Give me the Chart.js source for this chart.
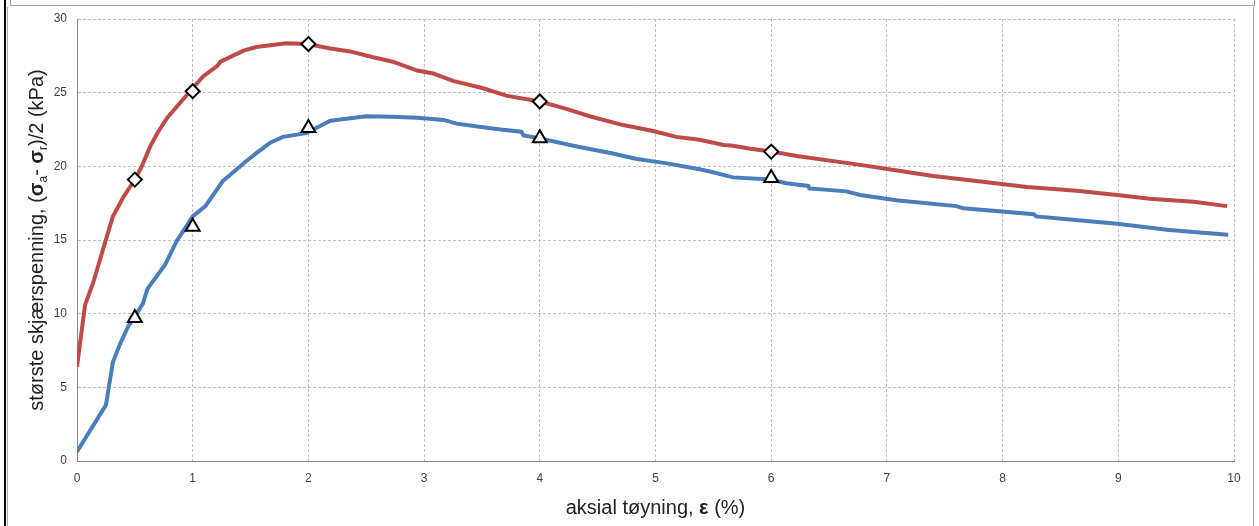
<!DOCTYPE html>
<html>
<head>
<meta charset="utf-8">
<script src="https://cdn.jsdelivr.net/npm/chart.js@4"></script>
<style>
  html, body { margin: 0; padding: 0; background: #fff; }
  #wrap { width: 1259px; height: 526px; }
</style>
</head>
<body>
<div id="wrap"><canvas id="myChart" width="1259" height="526"></canvas></div>
<script>
// Curve: red (upper)
const redX = [0, 0.07, 0.14, 0.23, 0.31, 0.40, 0.50, 0.56, 0.63, 0.69, 0.78, 0.89, 1.0, 1.09, 1.21, 1.24, 1.44, 1.55, 1.81, 1.99, 2.19,
              2.36, 2.56, 2.73, 2.94, 3.08, 3.25, 3.51, 3.71, 4.0, 4.23, 4.43, 4.72, 4.98, 5.18, 5.38, 5.59, 5.67, 5.82, 6.0, 6.22,
              6.77, 7.06, 7.40, 7.83, 8.21, 8.64, 8.99, 9.27, 9.65, 9.94];
const redY = [6.4, 10.6, 12.1, 14.5, 16.6, 17.9, 19.1, 20.0, 21.3, 22.2, 23.3, 24.3, 25.3, 26.1, 26.8, 27.1, 27.85, 28.1, 28.35, 28.3, 28.0,
              27.8, 27.4, 27.1, 26.5, 26.3, 25.8, 25.3, 24.8, 24.4, 23.9, 23.4, 22.8, 22.4, 22.0, 21.8, 21.45, 21.4, 21.2, 21.0, 20.7,
              20.1, 19.75, 19.35, 18.96, 18.6, 18.35, 18.06, 17.8, 17.6, 17.3];

// Curve: blue (lower)
const blueX = [0, 0.25, 0.31, 0.37, 0.44, 0.50, 0.57, 0.61, 0.76, 0.86, 1.0, 1.11, 1.26, 1.47, 1.55, 1.67, 1.78, 1.98, 2.19,
               2.50, 2.73, 2.94, 3.17, 3.28, 3.51, 3.66, 3.84, 3.86, 4.0, 4.32, 4.61, 4.84, 5.10, 5.38, 5.47, 5.67, 6.0, 6.13,
               6.32, 6.33, 6.65, 6.77, 7.08, 7.60, 7.66, 8.27, 8.29, 8.70, 8.99, 9.42, 9.65, 9.95];
const blueY = [0.63, 3.8, 6.7, 7.9, 9.1, 9.8, 10.7, 11.7, 13.3, 14.9, 16.6, 17.3, 19.0, 20.4, 20.9, 21.6, 22.0, 22.25, 23.1,
               23.4, 23.37, 23.3, 23.15, 22.9, 22.65, 22.5, 22.35, 22.1, 21.9, 21.35, 20.9, 20.5, 20.2, 19.8, 19.65, 19.25, 19.1, 18.85,
               18.67, 18.5, 18.3, 18.06, 17.7, 17.3, 17.15, 16.75, 16.6, 16.3, 16.1, 15.7, 15.55, 15.35];

// Measured points (markers)
const markerX = [0.5, 1, 2, 4, 6];
const diamondY = [19.1, 25.1, 28.3, 24.4, 21.0];
const triangleY = [9.7, 15.9, 22.6, 21.9, 19.2];

// Axis ticks
const xMin = 0, xMax = 10, xStep = 1;
const yMin = 0, yMax = 30, yStep = 5;

function toPoints(xs, ys) {
    let pts = [];
    for (let i = 0; i < xs.length; i++) {
        pts.push({x: xs[i], y: ys[i]});
    }
    return pts;
}

// Draws a line of text made of pieces (normal, bold, subscript), centered on x,y
function drawRich(ctx, pieces, x, y, size, family) {
    let fontOf = p => (p.bold ? 'bold ' : '') + (p.sub ? Math.round(size * 0.62) : size) + 'px ' + family;
    let total = 0;
    pieces.forEach(p => { ctx.font = fontOf(p); total += ctx.measureText(p.text).width; });
    let cx = x - total / 2;
    ctx.textBaseline = 'middle';
    ctx.textAlign = 'left';
    pieces.forEach(p => {
        ctx.font = fontOf(p);
        ctx.fillText(p.text, cx, p.sub ? y + size * 0.32 : y);
        cx += ctx.measureText(p.text).width;
    });
}

const framePlugin = {
    id: 'frame',
    beforeDraw(chart) {
        const ctx = chart.ctx;
        ctx.save();
        ctx.fillStyle = '#fff';
        ctx.fillRect(0, 0, chart.width, chart.height);
        ctx.fillStyle = '#000';
        ctx.fillRect(4, 0, 2, chart.height);
        ctx.strokeStyle = '#a6a6a6';
        ctx.lineWidth = 1;
        ctx.beginPath();
        ctx.moveTo(10.5, 0); ctx.lineTo(10.5, 5.5);
        ctx.moveTo(10, 5.5); ctx.lineTo(1254.5, 5.5);
        ctx.moveTo(1254.5, 0); ctx.lineTo(1254.5, 7);
        ctx.moveTo(7.5, 7); ctx.lineTo(7.5, chart.height);
        ctx.moveTo(1253.5, 7); ctx.lineTo(1253.5, chart.height);
        ctx.stroke();
        ctx.restore();
    },
    afterDraw(chart) {
        const ctx = chart.ctx;
        const a = chart.chartArea;
        const fam = '"Liberation Sans", Arial, sans-serif';
        ctx.save();
        ctx.fillStyle = '#222';
        drawRich(ctx, [
            {text: 'aksial tøyning, '},
            {text: 'ε', bold: true},
            {text: ' (%)'}
        ], (a.left + a.right) / 2, 508, 20, fam);

        ctx.translate(37, (a.top + a.bottom) / 2);
        ctx.rotate(-Math.PI / 2);
        drawRich(ctx, [
            {text: 'største skjærspenning, ('},
            {text: 'σ', bold: true},
            {text: 'a', sub: true},
            {text: '- '},
            {text: 'σ', bold: true},
            {text: 'r', sub: true},
            {text: ')/2 (kPa)'}
        ], 0, 0, 20, fam);
        ctx.restore();
    }
};

let grafica = new Chart(document.getElementById("myChart"), {
    type: 'scatter',
    data: {
        datasets: [
            {
                label: 'blue',
                data: toPoints(blueX, blueY),
                showLine: true,
                borderColor: '#4a7ebb',
                borderWidth: 4,
                pointRadius: 0,
                tension: 0,
                order: 3
            },
            {
                label: 'red',
                data: toPoints(redX, redY),
                showLine: true,
                borderColor: '#be4b48',
                borderWidth: 4,
                pointRadius: 0,
                tension: 0,
                order: 2
            },
            {
                label: 'triangles',
                data: toPoints(markerX, triangleY),
                pointStyle: 'triangle',
                pointRadius: 8,
                pointBorderColor: '#000',
                pointBackgroundColor: '#fff',
                pointBorderWidth: 2,
                order: 1
            },
            {
                label: 'diamonds',
                data: toPoints(markerX, diamondY),
                pointStyle: 'rectRot',
                pointRadius: 7,
                pointBorderColor: '#000',
                pointBackgroundColor: '#fff',
                pointBorderWidth: 2,
                order: 0
            }
        ]
    },
    options: {
        responsive: false,
        animation: false,
        layout: { padding: { left: 0, right: 25, top: 19, bottom: 0 } },
        plugins: {
            legend: { display: false },
            tooltip: { enabled: false }
        },
        scales: {
            x: {
                type: 'linear',
                min: xMin, max: xMax,
                ticks: { stepSize: xStep, color: '#404040', padding: 10, font: { size: 12, family: '"Liberation Sans", Arial, sans-serif' } },
                grid: { color: '#bfbfbf', drawTicks: false },
                border: { color: '#868686', width: 1, dash: [3, 2] },
                afterFit: s => { s.height = 65; }
            },
            y: {
                type: 'linear',
                min: yMin, max: yMax,
                ticks: { stepSize: yStep, color: '#404040', padding: 10, font: { size: 12, family: '"Liberation Sans", Arial, sans-serif' } },
                grid: { color: '#bfbfbf', drawTicks: false },
                border: { color: '#868686', width: 1, dash: [3, 2] },
                afterFit: s => { s.width = 77; }
            }
        }
    },
    plugins: [framePlugin]
});
</script>
</body>
</html>
